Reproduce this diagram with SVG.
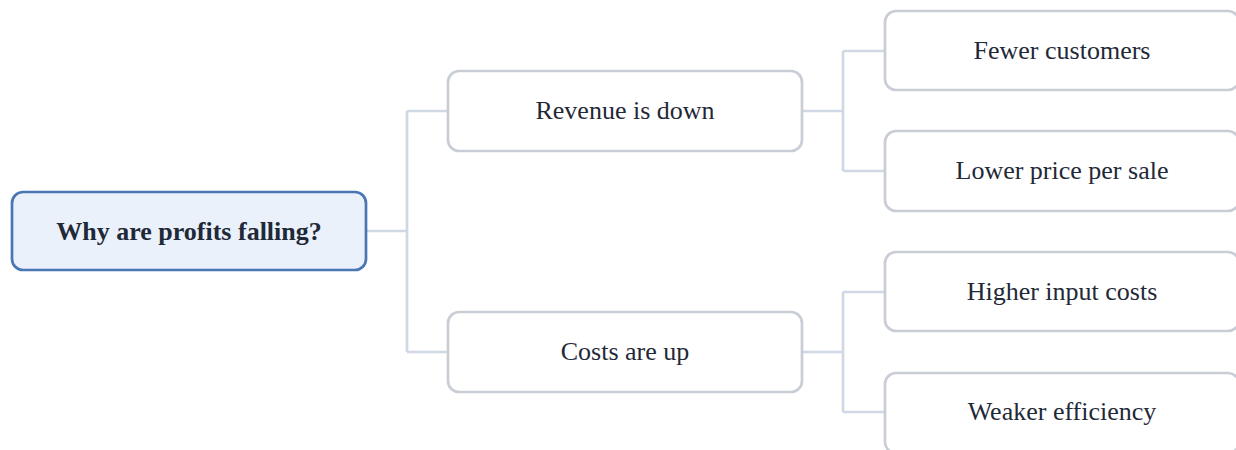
<svg xmlns="http://www.w3.org/2000/svg" width="1236" height="450" viewBox="0 0 1236 450">
<style>
.node rect{fill:#ffffff;stroke:#c9cdd5;stroke-width:2.7}
.root rect{fill:#eaf1fb;stroke:#4a76b4;stroke-width:2.7}
text{font-family:"Liberation Serif","Times New Roman",serif;font-size:26px;fill:#1f2937;text-anchor:middle}
.root text{font-weight:bold}
.conn path{fill:none;stroke:#d0d8e6;stroke-width:2.7}
</style>
<rect width="1236" height="450" fill="#ffffff"/>
<g class="conn" id="connectors">
<path d="M366 231 H407 M407 111 V352 M407 111 H448 M407 352 H448"/>
<path d="M802 111 H843 M843 51 V171 M843 51 H885 M843 171 H885"/>
<path d="M802 352 H843 M843 292 V412 M843 292 H885 M843 412 H885"/>
</g>
<g class="root" id="root"><rect x="12" y="192" width="354" height="78" rx="11"/><text x="189" y="240">Why are profits falling?</text></g>
<g class="node" id="revenue"><rect x="448" y="71" width="354" height="80" rx="11"/><text x="625" y="119">Revenue is down</text></g>
<g class="node" id="costs"><rect x="448" y="312" width="354" height="80" rx="11"/><text x="625" y="360">Costs are up</text></g>
<g class="node" id="fewer"><rect x="885" y="11" width="354" height="79" rx="11"/><text x="1062" y="59">Fewer customers</text></g>
<g class="node" id="lower"><rect x="885" y="131" width="354" height="80" rx="11"/><text x="1062" y="179">Lower price per sale</text></g>
<g class="node" id="higher"><rect x="885" y="252" width="354" height="79" rx="11"/><text x="1062" y="300">Higher input costs</text></g>
<g class="node" id="weaker"><rect x="885" y="373" width="354" height="80" rx="11"/><text x="1062" y="420">Weaker efficiency</text></g>
</svg>
